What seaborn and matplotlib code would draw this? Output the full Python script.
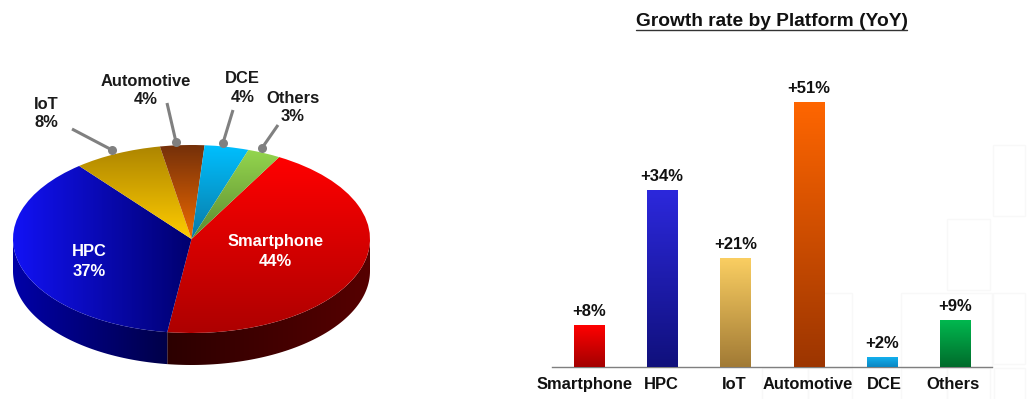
import numpy as np
import pandas as pd
import matplotlib
matplotlib.use("Agg")
import matplotlib.pyplot as plt
from matplotlib.colors import LinearSegmentedColormap
from matplotlib.patches import Polygon, Rectangle
from matplotlib.transforms import ScaledTranslation
import seaborn as sns

# Revenue share by platform
share_labels = ["Smartphone", "HPC", "IoT", "Automotive", "DCE", "Others"]
share_values = [44, 37, 8, 4, 4, 3]

# Year-over-year growth by platform
growth_labels = ["Smartphone", "HPC", "IoT", "Automotive", "DCE", "Others"]
growth_values = [8, 34, 21, 51, 2, 9]

W, H = 1035, 399
sns.set_theme(style="white")
plt.rcParams["font.family"] = ["Liberation Sans", "DejaVu Sans"]
plt.rcParams["font.weight"] = "bold"

fig = plt.figure(figsize=(W / 100, H / 100), dpi=100, facecolor="white")


def px_axes(left, top, right, bottom, **kw):
    """Axes placed by pixel edges, measured from the top-left of the figure."""
    return fig.add_axes([left / W, 1 - bottom / H, (right - left) / W, (bottom - top) / H], **kw)


def grad(ax, patch, c0, c1, extent, horizontal=False, zorder=2):
    """Fill a patch with a linear two-colour gradient, clipped to its outline."""
    cmap = LinearSegmentedColormap.from_list("g", [c0, c1])
    ramp = np.linspace(0, 1, 256)
    data = ramp[None, :] if horizontal else ramp[:, None]
    im = ax.imshow(data, cmap=cmap, extent=extent, origin="upper", aspect="auto",
                   zorder=zorder, interpolation="bilinear", vmin=0, vmax=1)
    im.set_clip_path(patch)
    return im


# ---------------- faint panel outlines behind everything ----------------
back = fig.add_axes([0, 0, 1, 1], zorder=-1)
back.set_xlim(0, W)
back.set_ylim(H, 0)
back.axis("off")
faint = [(993, 145, 32, 71), (947, 219, 43, 71), (810, 293, 42, 74), (901, 293, 91, 74),
         (993, 293, 32, 71), (762, 368, 46, 40), (808, 368, 44, 40), (901, 368, 46, 40),
         (947, 368, 43, 40), (994, 368, 31, 40)]
for x, y, w, h in faint:
    back.add_patch(Rectangle((x, y), w, h, fill=False, ec="#f8f8f8", lw=1.0))

# ---------------- 3-D style pie ----------------
CX, CY, RX, RY, DEPTH = 191.5, 239, 178.5, 94, 32
pie_ax = px_axes(CX - RX - 4, CY - RY - 4, CX + RX + 4, CY + RY + DEPTH + 4)
pad_x = 4 / RX
pad_y = 4 / RY
ylow = -1 - (DEPTH + 4) / RY
START = 60.6

wedges, _ = pie_ax.pie(share_values, startangle=START, counterclock=False, radius=1,
                       center=(0, 0), frame=False, normalize=True,
                       wedgeprops=dict(linewidth=0))
pie_ax.set_aspect("auto")
pie_ax.set_xlim(-1 - pad_x, 1 + pad_x)
pie_ax.set_ylim(ylow, 1 + pad_y)
pie_ax.axis("off")

top_fills = {
    "Smartphone": ("#ff0000", "#ad0000", False),
    "HPC": ("#1212f5", "#00006e", True),
    "IoT": ("#ad8500", "#ffcc00", False),
    "Automotive": ("#74300a", "#f06a00", False),
    "DCE": ("#00bfff", "#0a7aa5", False),
    "Others": ("#94d64e", "#5c8a30", False),
}
side_fills = {
    "Smartphone": ("#2c0000", "#560000"),
    "HPC": ("#0000a8", "#000048"),
}

fractions = np.cumsum([0] + share_values) / sum(share_values)
for i, (name, wedge) in enumerate(zip(share_labels, wedges)):
    c0, c1, horiz = top_fills[name]
    t0 = START - 360 * fractions[i]
    t1 = START - 360 * fractions[i + 1]
    arc = np.radians(np.linspace(t1, t0, 40))
    xs = np.concatenate(([0], np.cos(arc)))
    ys = np.concatenate(([0], np.sin(arc)))
    ext = (xs.min(), xs.max(), -1, 1) if horiz else (-1, 1, ys.min(), ys.max())
    wedge.set_visible(False)
    grad(pie_ax, wedge, c0, c1, ext, horizontal=horiz, zorder=3)

    # Outer wall of the slices that face the viewer
    if name in side_fills:
        lo, hi = max(t1, -180.0), min(t0, 0.0)
        th = np.radians(np.linspace(lo, hi, 80))
        ax_, ay_ = np.cos(th), np.sin(th)
        drop = DEPTH / RY
        verts = np.column_stack([np.r_[ax_, ax_[::-1]], np.r_[ay_, ay_[::-1] - drop]])
        wall = Polygon(verts, closed=True, transform=pie_ax.transData,
                       facecolor="none", edgecolor="none")
        pie_ax.add_patch(wall)
        s0, s1 = side_fills[name]
        grad(pie_ax, wall, s0, s1, (ax_.min(), ax_.max(), ylow, 1), horizontal=True, zorder=2)

# ---------------- bars ----------------
bar_ax = px_axes(552, 40, 992, 367)
frame = pd.DataFrame({"platform": growth_labels, "growth": growth_values})
sns.barplot(data=frame, x="platform", y="growth", ax=bar_ax, width=0.41,
            color="#888888", saturation=1, errorbar=None, zorder=3)
bar_ax.patch.set_alpha(0)
bar_ax.set_xlabel("")
bar_ax.set_ylabel("")
bar_ax.set_yticks([])
sns.despine(ax=bar_ax, left=True)
bar_ax.spines["bottom"].set_color("#7f7f7f")
bar_ax.spines["bottom"].set_linewidth(1.0)
bar_ax.tick_params(axis="x", length=0, pad=7, labelsize=11.9, colors="#111111")

label_shift = [-4, -1, -1, -1, 2, -2]
for tick, dx in zip(bar_ax.get_xticklabels(), label_shift):
    tick.set_transform(tick.get_transform() + ScaledTranslation(dx / 100, 0, fig.dpi_scale_trans))

bar_fills = [("#ff0000", "#a30000"), ("#2c28dc", "#10107c"), ("#fbcf62", "#a17a35"),
             ("#ff6600", "#9c3500"), ("#14b4f2", "#0a86c2"), ("#00b84f", "#006b2b")]
for patch, val, (c0, c1) in zip(bar_ax.patches, growth_values, bar_fills):
    x0, w = patch.get_x(), patch.get_width()
    patch.set_visible(False)
    grad(bar_ax, patch, c0, c1, (x0, x0 + w, 0, val), zorder=3)
    bar_ax.text(x0 + w / 2, val + 1.15, f"+{val}%", ha="center", va="bottom",
                fontsize=12, color="#111111", zorder=4)
bar_ax.set_ylim(0, 327 / 5.2)
bar_ax.set_xlim(-0.5, 5.5)

# ---------------- annotation layer in pixel coordinates ----------------
top = fig.add_axes([0, 0, 1, 1], zorder=10)
top.set_xlim(0, W)
top.set_ylim(H, 0)
top.axis("off")
top.patch.set_alpha(0)

# Underlined heading
top.text(771.5, 21, "Growth rate by Platform (YoY)", ha="center", va="center",
         fontsize=13.8, color="#111111")
top.plot([636, 907], [30, 30], color="#333333", lw=1.0)

# Leader lines with round ends
leaders = [((72, 129), (112, 150)), ((167, 103), (176, 142)),
           ((233, 110), (223, 143)), ((278, 125), (262, 148))]
for (x0, y0), (x1, y1) in leaders:
    top.plot([x0, x1], [y0, y1], color="#808080", lw=2.2, solid_capstyle="butt")
    top.plot([x1], [y1], "o", color="#808080", ms=6.5, mew=0)

dark = "#1a1a1a"
pie_texts = [("IoT\n8%", 46, 113.5, dark, 1.25), ("Automotive\n4%", 145.5, 90.5, dark, 1.25),
             ("DCE\n4%", 242.5, 88, dark, 1.3), ("Others\n3%", 293, 107.5, dark, 1.25),
             ("HPC\n37%", 89, 261.5, "white", 1.45), ("Smartphone\n44%", 275.5, 251.5, "white", 1.45)]
for txt, x, y, col, spacing in pie_texts:
    top.text(x, y, txt, ha="center", va="center", fontsize=11.9, color=col, linespacing=spacing)

fig.savefig("out.png", dpi=100, facecolor="white")
